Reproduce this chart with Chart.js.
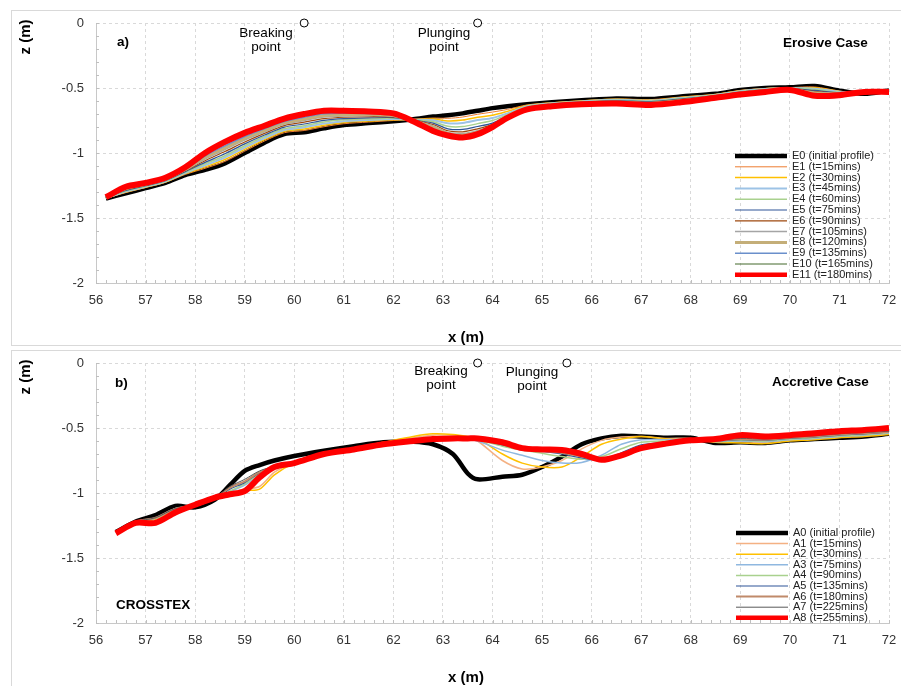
<!DOCTYPE html>
<html>
<head>
<meta charset="utf-8">
<script src="https://cdn.jsdelivr.net/npm/chart.js@4.4.1/dist/chart.umd.min.js"></script>
<style>
  body { margin: 0; background: #fff; width: 901px; height: 686px; overflow: hidden; position: relative; }
  .frame { position: absolute; left: 11px; width: 900px; border: 1px solid #d9d9d9; }
  #frameA { top: 10px; height: 334px; }
  #frameB { top: 350px; height: 340px; }
  canvas { position: absolute; left: 0; }
  #chartA { top: 0; }
  #chartB { top: 348px; }
</style>
</head>
<body>
<div class="frame" id="frameA"></div>
<div class="frame" id="frameB"></div>
<canvas id="chartA" width="901" height="348"></canvas>
<canvas id="chartB" width="901" height="338"></canvas>
<script>
// ---- erosive case (panel a) ----
const xErosive = [56.2, 56.6, 57.0, 57.4, 57.8, 58.2, 58.6, 59.0, 59.4, 59.8, 60.2, 60.6, 61.0, 61.5, 62.0, 62.4, 62.8, 63.1,
  63.4, 63.7, 64.0, 64.3, 64.7, 65.2, 65.8, 66.5, 67.2, 67.8, 68.5, 69.0, 69.5, 70.0, 70.5, 71.0, 71.5, 72.0];
const erosiveLabels = ['E0 (initial profile)', 'E1 (t=15mins)', 'E2 (t=30mins)', 'E3 (t=45mins)', 'E4 (t=60mins)',
  'E5 (t=75mins)', 'E6 (t=90mins)', 'E7 (t=105mins)', 'E8 (t=120mins)', 'E9 (t=135mins)', 'E10 (t=165mins)', 'E11 (t=180mins)'];
const E0 = [-1.35, -1.31, -1.27, -1.23, -1.17, -1.13, -1.08, -1.00, -0.92, -0.855, -0.84, -0.81, -0.785, -0.77, -0.755,
  -0.74, -0.72, -0.71, -0.695, -0.675, -0.655, -0.64, -0.625, -0.61, -0.595, -0.58, -0.585, -0.565, -0.545, -0.515, -0.50, -0.495, -0.485, -0.52, -0.545, -0.52];
const E1 = [-1.349, -1.305, -1.266, -1.226, -1.165, -1.118, -1.065, -0.986, -0.908, -0.844, -0.827, -0.798, -0.775, -0.762, -0.750,
  -0.741, -0.731, -0.733, -0.723, -0.702, -0.685, -0.665, -0.630, -0.613, -0.598, -0.584, -0.589, -0.569, -0.548, -0.518, -0.503, -0.497, -0.492, -0.523, -0.544, -0.521];
const E2 = [-1.348, -1.301, -1.263, -1.223, -1.159, -1.107, -1.050, -0.972, -0.897, -0.833, -0.815, -0.786, -0.765, -0.754, -0.744,
  -0.743, -0.738, -0.753, -0.747, -0.725, -0.710, -0.680, -0.635, -0.615, -0.600, -0.587, -0.593, -0.573, -0.550, -0.521, -0.505, -0.499, -0.499, -0.526, -0.542, -0.522];
const E3 = [-1.347, -1.297, -1.259, -1.219, -1.154, -1.095, -1.035, -0.958, -0.885, -0.823, -0.802, -0.774, -0.755, -0.746, -0.739,
  -0.744, -0.748, -0.772, -0.769, -0.747, -0.730, -0.695, -0.640, -0.618, -0.603, -0.591, -0.597, -0.577, -0.553, -0.524, -0.508, -0.500, -0.505, -0.529, -0.541, -0.523];
const E4 = [-1.346, -1.292, -1.256, -1.216, -1.148, -1.083, -1.021, -0.944, -0.873, -0.812, -0.790, -0.761, -0.745, -0.738, -0.733,
  -0.745, -0.759, -0.795, -0.797, -0.774, -0.750, -0.705, -0.645, -0.621, -0.606, -0.594, -0.601, -0.581, -0.556, -0.528, -0.511, -0.502, -0.512, -0.533, -0.540, -0.524];
const E5 = [-1.345, -1.288, -1.252, -1.212, -1.143, -1.072, -1.006, -0.930, -0.862, -0.801, -0.777, -0.749, -0.736, -0.730, -0.728,
  -0.747, -0.770, -0.814, -0.819, -0.796, -0.770, -0.715, -0.650, -0.624, -0.609, -0.598, -0.605, -0.585, -0.559, -0.531, -0.514, -0.504, -0.519, -0.536, -0.538, -0.525];
const E6 = [-1.344, -1.283, -1.248, -1.208, -1.137, -1.059, -0.989, -0.915, -0.849, -0.789, -0.763, -0.736, -0.725, -0.721, -0.722,
  -0.748, -0.781, -0.829, -0.837, -0.814, -0.780, -0.720, -0.653, -0.627, -0.612, -0.602, -0.610, -0.590, -0.562, -0.534, -0.517, -0.506, -0.526, -0.539, -0.537, -0.526];
const E7 = [-1.344, -1.278, -1.244, -1.204, -1.132, -1.047, -0.974, -0.901, -0.837, -0.778, -0.750, -0.724, -0.715, -0.712, -0.717,
  -0.750, -0.792, -0.842, -0.852, -0.828, -0.790, -0.725, -0.656, -0.629, -0.614, -0.606, -0.614, -0.594, -0.564, -0.537, -0.519, -0.508, -0.533, -0.542, -0.535, -0.526];
const E8 = [-1.343, -1.274, -1.241, -1.201, -1.126, -1.035, -0.960, -0.887, -0.825, -0.767, -0.738, -0.711, -0.705, -0.704, -0.711,
  -0.751, -0.803, -0.851, -0.863, -0.839, -0.800, -0.730, -0.659, -0.632, -0.617, -0.609, -0.618, -0.598, -0.567, -0.541, -0.522, -0.510, -0.540, -0.546, -0.534, -0.527];
const E9 = [-1.342, -1.269, -1.237, -1.197, -1.121, -1.023, -0.945, -0.873, -0.813, -0.757, -0.725, -0.699, -0.695, -0.696, -0.706,
  -0.752, -0.814, -0.857, -0.871, -0.846, -0.805, -0.730, -0.661, -0.635, -0.620, -0.613, -0.622, -0.602, -0.570, -0.544, -0.525, -0.511, -0.547, -0.549, -0.533, -0.528];
const E10 = [-1.341, -1.265, -1.234, -1.194, -1.115, -1.012, -0.930, -0.859, -0.802, -0.746, -0.713, -0.687, -0.685, -0.688, -0.700,
  -0.754, -0.822, -0.862, -0.876, -0.851, -0.805, -0.730, -0.663, -0.637, -0.622, -0.616, -0.626, -0.606, -0.572, -0.547, -0.527, -0.513, -0.553, -0.552, -0.531, -0.529];
const E11 = [-1.34, -1.26, -1.23, -1.19, -1.11, -1.00, -0.915, -0.845, -0.79, -0.735, -0.70, -0.675, -0.675, -0.68, -0.695,
  -0.755, -0.83, -0.865, -0.88, -0.855, -0.80, -0.73, -0.665, -0.64, -0.625, -0.62, -0.63, -0.61, -0.575, -0.55, -0.53, -0.515, -0.56, -0.555, -0.53, -0.53];
const erosiveProfiles = [E0, E1, E2, E3, E4, E5, E6, E7, E8, E9, E10, E11];
const erosivePoints = [60.2, 63.7];   // breaking, plunging

// ---- accretive case (panel b) ----
const xAccretive = [56.4, 56.8, 57.2, 57.6, 58.0, 58.4, 58.7, 59.0, 59.3, 59.6, 60.0, 60.6, 61.2, 61.8, 62.4, 62.8, 63.2, 63.5,
  63.7, 64.2, 64.6, 65.0, 65.4, 65.8, 66.2, 66.6, 67.0, 67.5, 68.0, 68.5, 69.0, 69.5, 70.0, 70.5, 71.0, 71.5, 72.0];
const accretiveLabels = ['A0 (initial profile)', 'A1 (t=15mins)', 'A2 (t=30mins)', 'A3 (t=75mins)', 'A4 (t=90mins)',
  'A5 (t=135mins)', 'A6 (t=180mins)', 'A7 (t=225mins)', 'A8 (t=255mins)'];
const A0 = [-1.30, -1.22, -1.17, -1.10, -1.11, -1.05, -0.94, -0.83, -0.785, -0.75, -0.715, -0.675, -0.64, -0.61, -0.605, -0.625, -0.70, -0.85,
  -0.895, -0.875, -0.86, -0.80, -0.72, -0.625, -0.58, -0.56, -0.565, -0.575, -0.575, -0.615, -0.61, -0.615, -0.595, -0.585, -0.575, -0.565, -0.545];
const A1 = [-1.30, -1.225, -1.20, -1.125, -1.10, -1.04, -1.00, -0.97, -0.95, -0.84, -0.765, -0.69, -0.655, -0.615, -0.575, -0.555, -0.56, -0.575,
  -0.60, -0.75, -0.815, -0.80, -0.75, -0.66, -0.595, -0.57, -0.565, -0.58, -0.58, -0.605, -0.605, -0.61, -0.595, -0.585, -0.57, -0.56, -0.545];
const A2 = [-1.30, -1.225, -1.20, -1.125, -1.10, -1.04, -1.005, -0.98, -0.97, -0.86, -0.77, -0.69, -0.655, -0.61, -0.565, -0.545, -0.55, -0.565,
  -0.58, -0.70, -0.77, -0.80, -0.80, -0.72, -0.625, -0.585, -0.565, -0.585, -0.585, -0.61, -0.615, -0.62, -0.60, -0.59, -0.575, -0.565, -0.55];
const A3 = [-1.30, -1.22, -1.195, -1.12, -1.10, -1.04, -0.99, -0.94, -0.86, -0.80, -0.765, -0.69, -0.655, -0.615, -0.585, -0.575, -0.575, -0.585,
  -0.60, -0.67, -0.71, -0.75, -0.77, -0.765, -0.71, -0.625, -0.59, -0.59, -0.585, -0.605, -0.60, -0.605, -0.59, -0.58, -0.565, -0.555, -0.54];
const A4 = [-1.30, -1.22, -1.195, -1.12, -1.10, -1.04, -0.985, -0.93, -0.85, -0.80, -0.765, -0.69, -0.655, -0.615, -0.59, -0.58, -0.575, -0.58,
  -0.59, -0.64, -0.67, -0.695, -0.72, -0.74, -0.72, -0.66, -0.61, -0.60, -0.59, -0.60, -0.595, -0.60, -0.585, -0.575, -0.56, -0.55, -0.535];
const A5 = [-1.30, -1.22, -1.19, -1.12, -1.10, -1.04, -0.97, -0.92, -0.845, -0.80, -0.765, -0.69, -0.655, -0.615, -0.59, -0.58, -0.575, -0.58,
  -0.585, -0.63, -0.66, -0.68, -0.70, -0.73, -0.745, -0.69, -0.63, -0.61, -0.595, -0.60, -0.59, -0.595, -0.58, -0.57, -0.555, -0.545, -0.53];
const A6 = [-1.30, -1.22, -1.19, -1.12, -1.10, -1.04, -0.96, -0.91, -0.84, -0.80, -0.765, -0.69, -0.655, -0.615, -0.59, -0.58, -0.575, -0.58,
  -0.585, -0.62, -0.655, -0.675, -0.69, -0.72, -0.75, -0.70, -0.64, -0.615, -0.595, -0.595, -0.585, -0.59, -0.575, -0.565, -0.55, -0.54, -0.53];
const A7 = [-1.30, -1.22, -1.19, -1.12, -1.10, -1.04, -0.95, -0.895, -0.83, -0.795, -0.765, -0.69, -0.655, -0.615, -0.59, -0.58, -0.575, -0.58,
  -0.585, -0.615, -0.655, -0.67, -0.685, -0.715, -0.75, -0.705, -0.645, -0.615, -0.595, -0.595, -0.58, -0.585, -0.57, -0.56, -0.545, -0.535, -0.525];
const A8 = [-1.31, -1.23, -1.23, -1.15, -1.09, -1.035, -1.01, -0.985, -0.88, -0.80, -0.77, -0.70, -0.665, -0.625, -0.60, -0.585, -0.58, -0.58,
  -0.58, -0.61, -0.655, -0.665, -0.67, -0.70, -0.745, -0.71, -0.655, -0.62, -0.595, -0.585, -0.555, -0.565, -0.555, -0.54, -0.525, -0.515, -0.50];
const accretiveProfiles = [A0, A1, A2, A3, A4, A5, A6, A7, A8];
const accretivePoints = [63.7, 65.5];

// line styles
const erosiveColors = ['#000000', '#ED7D31', '#FFC000', '#9DC3E6', '#A9D18E', '#2F5597', '#9E480E', '#A5A5A5', '#C4AE78', '#6A8FCB', '#43682B', '#FF0000'];
const erosiveWidths = [4.5, 1, 1.5, 2, 1.5, 1.2, 1.2, 1.5, 3, 1.5, 1, 6];
const accretiveColors = ['#000000', '#F4B183', '#FFC000', '#8FB8E0', '#A9D18E', '#2F5597', '#C08A6A', '#595959', '#FF0000'];
const accretiveWidths = [4.5, 1.5, 1.5, 1.5, 1.5, 1.2, 2, 1, 6];

const FONT = '"Liberation Sans", Arial, sans-serif';

// minor ticks on both axes
const minorTicks = {
  id: 'minorTicks',
  beforeDatasetsDraw(chart) {
    const { ctx, chartArea: a, scales: { x, y } } = chart;
    ctx.save();
    ctx.strokeStyle = '#bfbfbf';
    ctx.lineWidth = 1;
    ctx.beginPath();
    for (let v = 56; v <= 72.001; v += 0.2) {
      const px = Math.round(x.getPixelForValue(v)) + 0.5;
      ctx.moveTo(px, a.bottom - 3); ctx.lineTo(px, a.bottom);
    }
    for (let v = -2; v <= 0.001; v += 0.1) {
      const py = Math.round(y.getPixelForValue(v)) + 0.5;
      ctx.moveTo(a.left, py); ctx.lineTo(a.left + 3, py);
    }
    ctx.stroke();
    ctx.restore();
  }
};

// free text: axis titles, panel labels, annotations
const notes = {
  id: 'notes',
  afterDraw(chart, args, o) {
    const ctx = chart.ctx;
    ctx.save();
    ctx.textBaseline = 'middle';
    o.items.forEach(n => {
      ctx.font = (n.bold ? 'bold ' : '') + n.size + 'px ' + FONT;
      ctx.fillStyle = '#000';
      ctx.textAlign = n.align || 'left';
      if (n.rotate) {
        ctx.save();
        ctx.translate(n.x, n.y);
        ctx.rotate(-Math.PI / 2);
        ctx.textAlign = 'center';
        ctx.fillText(n.t, 0, 0);
        ctx.restore();
      } else {
        ctx.fillText(n.t, n.x, n.y);
      }
    });
    ctx.restore();
  }
};

// legend block drawn inside the plot
const legendBox = {
  id: 'legendBox',
  afterDraw(chart, args, o) {
    const ctx = chart.ctx;
    ctx.save();
    ctx.font = '11px ' + FONT;
    ctx.textBaseline = 'middle';
    ctx.textAlign = 'left';
    let row = 0;
    chart.data.datasets.forEach(ds => {
      if (ds.marker) return;
      const y = o.y + row * o.gap;
      ctx.strokeStyle = ds.borderColor;
      ctx.lineWidth = Math.min(ds.borderWidth, 4.5);
      ctx.beginPath();
      ctx.moveTo(o.x, y);
      ctx.lineTo(o.x + 52, y);
      ctx.stroke();
      ctx.fillStyle = '#222';
      ctx.fillText(ds.label, o.x + 57, y);
      row++;
    });
    ctx.restore();
  }
};

function buildSets(xs, profiles, labels, colors, widths, points) {
  const n = profiles.length;
  const sets = profiles.map((ys, i) => ({
    label: labels[i],
    data: xs.map((x, j) => ({ x: x, y: ys[j] })),
    borderColor: colors[i],
    borderWidth: widths[i],
    pointRadius: 0,
    tension: 0.3,
    fill: false,
    order: n - i
  }));
  sets.push({
    label: 'points',
    marker: true,
    data: points.map(p => ({ x: p, y: 0 })),
    showLine: false,
    pointRadius: 4,
    pointBackgroundColor: '#fff',
    pointBorderColor: '#000',
    pointBorderWidth: 1,
    clip: false,
    order: -1
  });
  return sets;
}

function makeChart(id, sets, topPad, xAxisHeight, noteItems, legendPos) {
  return new Chart(document.getElementById(id), {
    type: 'line',
    data: { datasets: sets },
    plugins: [minorTicks, notes, legendBox],
    options: {
      responsive: false,
      animation: false,
      layout: { padding: { top: topPad, right: 12, left: 0, bottom: 0 } },
      scales: {
        x: {
          type: 'linear', min: 56, max: 72,
          afterFit(s) { s.height = xAxisHeight; s.paddingLeft = 0; s.paddingRight = 0; },
          ticks: { stepSize: 1, padding: 10, color: '#333', font: { family: FONT, size: 13 } },
          grid: { color: '#d9d9d9', drawTicks: false },
          border: { color: '#c8c8c8', dash: [3, 3] }
        },
        y: {
          min: -2, max: 0,
          afterFit(s) { s.width = 96; s.paddingTop = 0; s.paddingBottom = 0; },
          ticks: {
            stepSize: 0.5, padding: 12, color: '#333', font: { family: FONT, size: 13 },
            callback: v => String(v)
          },
          grid: { color: '#d9d9d9', drawTicks: false },
          border: { color: '#c8c8c8', dash: [3, 3] }
        }
      },
      plugins: {
        legend: { display: false },
        tooltip: { enabled: false },
        notes: { items: noteItems },
        legendBox: legendPos
      }
    }
  });
}

makeChart('chartA',
  buildSets(xErosive, erosiveProfiles, erosiveLabels, erosiveColors, erosiveWidths, erosivePoints),
  23, 65,
  [
    { t: 'z (m)', x: 26, y: 37, size: 15, bold: true, rotate: true },
    { t: 'x (m)', x: 466, y: 338, size: 15, bold: true, align: 'center' },
    { t: 'a)', x: 117, y: 42, size: 13.5, bold: true },
    { t: 'Erosive Case', x: 783, y: 43, size: 13.5, bold: true },
    { t: 'Breaking', x: 266, y: 33, size: 13.5, align: 'center' },
    { t: 'point', x: 266, y: 47, size: 13.5, align: 'center' },
    { t: 'Plunging', x: 444, y: 33, size: 13.5, align: 'center' },
    { t: 'point', x: 444, y: 47, size: 13.5, align: 'center' }
  ],
  { x: 735, y: 156, gap: 10.8 });

makeChart('chartB',
  buildSets(xAccretive, accretiveProfiles, accretiveLabels, accretiveColors, accretiveWidths, accretivePoints),
  15, 63,
  [
    { t: 'z (m)', x: 26, y: 29, size: 15, bold: true, rotate: true },
    { t: 'x (m)', x: 466, y: 330, size: 15, bold: true, align: 'center' },
    { t: 'b)', x: 115, y: 35, size: 13.5, bold: true },
    { t: 'Accretive Case', x: 772, y: 34, size: 13.5, bold: true },
    { t: 'Breaking', x: 441, y: 23, size: 13.5, align: 'center' },
    { t: 'point', x: 441, y: 37, size: 13.5, align: 'center' },
    { t: 'Plunging', x: 532, y: 24, size: 13.5, align: 'center' },
    { t: 'point', x: 532, y: 38, size: 13.5, align: 'center' },
    { t: 'CROSSTEX', x: 116, y: 257, size: 13.5, bold: true }
  ],
  { x: 736, y: 185, gap: 10.6 });
</script>
</body>
</html>
